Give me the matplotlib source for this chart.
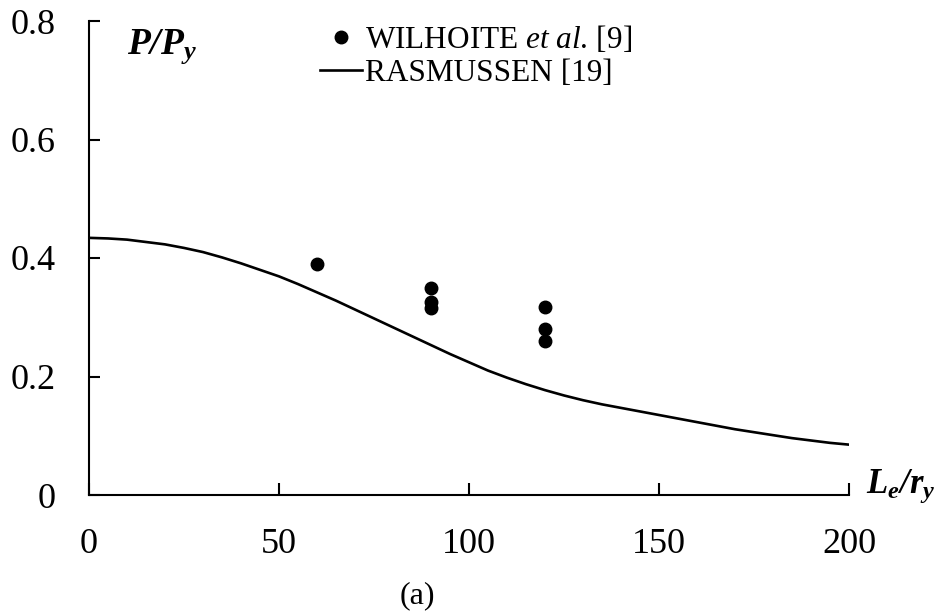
import matplotlib
matplotlib.use("Agg")
import matplotlib.pyplot as plt

# data
slenderness = [0, 5, 10, 15, 20, 25, 30, 35, 40, 45, 50, 55, 60, 65, 70, 75, 80, 85, 90, 95, 100,
               105, 110, 115, 120, 125, 130, 135, 140, 145, 150, 155, 160, 165, 170, 175, 180,
               185, 190, 195, 200]
rasmussen = [0.434, 0.433, 0.431, 0.427, 0.423, 0.417, 0.410, 0.401, 0.391, 0.380, 0.369,
             0.356, 0.342, 0.328, 0.313, 0.298, 0.283, 0.268, 0.253, 0.238, 0.224,
             0.210, 0.198, 0.187, 0.177, 0.168, 0.160, 0.153, 0.147, 0.141, 0.135,
             0.129, 0.123, 0.117, 0.111, 0.106, 0.101, 0.096, 0.092, 0.088, 0.085]

test_x = [60, 90, 90, 90, 120, 120, 120]
test_y = [0.39, 0.35, 0.325, 0.315, 0.317, 0.28, 0.26]

x_ticks = [0, 50, 100, 150, 200]
y_ticks = [0, 0.2, 0.4, 0.6, 0.8]
y_labels = ["0", "0.2", "0.4", "0.6", "0.8"]

plt.rcParams['font.family'] = ['Liberation Serif', 'DejaVu Serif']
plt.rcParams['mathtext.fontset'] = 'custom'
plt.rcParams['mathtext.rm'] = 'Liberation Serif'
plt.rcParams['mathtext.it'] = 'Liberation Serif:italic'
plt.rcParams['mathtext.bf'] = 'Liberation Serif:bold'
plt.rcParams['mathtext.bfit'] = 'Liberation Serif:bold:italic'

fig = plt.figure(figsize=(9.39, 6.14), dpi=100)
ax = fig.add_axes([89/939, 1 - 495/614, 760/939, 474/614])

ax.plot(slenderness, rasmussen, color='black', lw=1.9, label='RASMUSSEN [19]', zorder=2)
ax.plot(test_x, test_y, 'o', color='black', ms=9, label=r'WILHOITE $\mathit{et\ al.}\,$[9]', zorder=3)

ax.set_xlim(0, 200)
ax.set_ylim(0, 0.8)
ax.set_xticks(x_ticks)
ax.set_yticks(y_ticks)
ax.set_yticklabels(y_labels)

ax.spines['top'].set_visible(False)
ax.spines['right'].set_visible(False)
for s in ['left', 'bottom']:
    ax.spines[s].set_linewidth(1.5)

ax.tick_params(axis='y', direction='in', length=8, width=1.5, labelsize=26, pad=24)
ax.tick_params(axis='x', direction='in', length=9, width=1.5, labelsize=26, pad=24)

ax.text(0.05, 0.932, r'$\mathbfit{P/P_y}$', transform=ax.transAxes,
        fontsize=27, ha='left', va='baseline')
ax.text(1.022, 0.004, r'$\mathbfit{L_e/r_y}$', transform=ax.transAxes,
        fontsize=25, ha='left', va='baseline', clip_on=False)

handles, labels = ax.get_legend_handles_labels()
ax.legend(handles[::-1], labels[::-1], loc='upper left',
          bbox_to_anchor=((320 - 89) / 760, 1.0 - 3 / 474), frameon=False,
          fontsize=22.5, handlelength=1.35, handletextpad=0.08,
          labelspacing=0.14, borderpad=0, borderaxespad=0)

fig.text(417/939, 1 - 596/614, '(a)', fontsize=23, ha='center', va='center')

fig.savefig('out.png', dpi=100)
